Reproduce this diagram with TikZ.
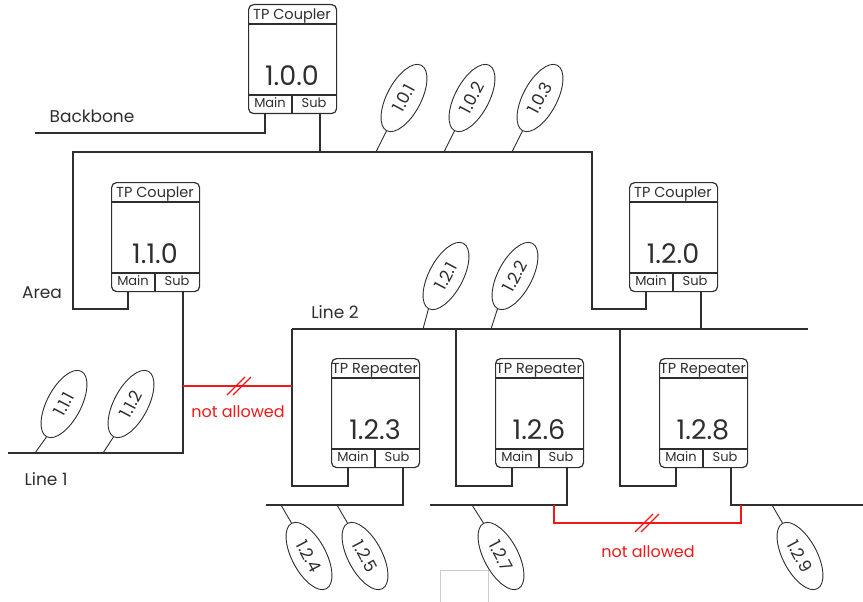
\documentclass[tikz,border=0pt]{standalone}
\usepackage{fontspec}
\setmainfont{Poppins}
\usetikzlibrary{shapes.geometric}
\definecolor{ink}{HTML}{2E2E2E}
\definecolor{nored}{HTML}{F01818}
\definecolor{faint}{HTML}{CCCCCC}
\tikzset{
  wire/.style={draw=ink, line width=2pt},
  boxline/.style={draw=ink, line width=1.2pt},
  tpbox/.style={rectangle, draw=ink, line width=1.2pt, rounded corners=5pt,
    minimum width=88pt, minimum height=109pt, inner sep=0pt},
  ttl/.style={font=\fontsize{14.5}{14.5}\selectfont, text=ink, anchor=base, inner sep=0pt},
  num/.style={font=\fontsize{27}{27}\selectfont, text=ink, anchor=base, inner sep=0pt},
  ms/.style={font=\fontsize{13}{13}\selectfont, text=ink, anchor=base, inner sep=0pt},
  dev/.style={ellipse, draw=ink, line width=0.9pt, minimum width=74pt,
    minimum height=34pt, inner sep=0pt, font=\fontsize{17}{17}\selectfont, text=ink},
  stem/.style={draw=ink, line width=0.9pt},
  redwire/.style={draw=nored, line width=2pt},
  slash/.style={draw=nored, line width=1.3pt},
  lbl/.style={font=\fontsize{17}{17}\selectfont, text=ink, anchor=base, inner sep=0pt},
  redlbl/.style={font=\fontsize{16}{16}\selectfont, text=nored, anchor=base, inner sep=0pt},
}
\newcommand\tpunit[5]{%
  \node[tpbox, anchor=north west] (#1) at (#2,#3) {};
  \draw[boxline] (#2,#3+20) -- (#2+88,#3+20);
  \draw[boxline] (#2,#3+91) -- (#2+88,#3+91);
  \draw[boxline] (#2+44,#3+91) -- (#2+44,#3+109);
  \node[ttl] (#1-t) at (#2+44,#3+15.5) {#4};
  \node[num] (#1-n) at (#2+44,#3+81) {#5};
  \node[ms] (#1-m) at (#2+22,#3+103.5) {Main};
  \node[ms] (#1-s) at (#2+66,#3+103.5) {Sub};
  \coordinate (#1-main) at (#2+17,#3+109);
  \coordinate (#1-sub) at (#2+72,#3+109);
}
\begin{document}
\begin{tikzpicture}[x=1pt,y=-1pt]
\useasboundingbox (0,0) rectangle (863,602);

% units
\tpunit{c100}{248}{4}{TP Coupler}{1.0.0}
\tpunit{c110}{111}{182}{TP Coupler}{1.1.0}
\tpunit{c120}{629}{182}{TP Coupler}{1.2.0}
\tpunit{r123}{331}{358}{TP Repeater}{1.2.3}
\tpunit{r126}{495}{358}{TP Repeater}{1.2.6}
\tpunit{r128}{659}{358}{TP Repeater}{1.2.8}

% labels
\node[lbl] (lbb) at (92,122) {Backbone};
\node[lbl] (lar) at (42,298) {Area};
\node[lbl] (ll1) at (46,485) {Line 1};
\node[lbl] (ll2) at (335,318) {Line 2};

% coordinates
\coordinate (bbend) at (35,133);
\coordinate (arL) at (73,152);
\coordinate (arR) at (592,152);
\coordinate (arLb) at (73,309);
\coordinate (arRb) at (592,309);
\coordinate (l1end) at (8,453);
\coordinate (l2L) at (292,329);
\coordinate (l2M) at (456,329);
\coordinate (l2N) at (620,329);
\coordinate (l2R) at (808,329);
\coordinate (k1) at (292,486);
\coordinate (k2) at (456,486);
\coordinate (k3) at (620,486);
\coordinate (bl1) at (266,505);
\coordinate (bl2) at (430,505);
\coordinate (bl3) at (863,505);

% wires
\draw[wire] (c100-main) |- (bbend);
\draw[wire] (c100-sub) -- (c100-sub |- arL);
\draw[wire] (c110-main) |- (arLb) -- (arL) -- (arR) -- (arRb) -| (c120-main);
\draw[wire] (c110-sub) |- (l1end);
\draw[wire] (l2L) -- (l2R);
\draw[wire] (c120-sub) -- (c120-sub |- l2L);
\draw[wire] (l2L) -- (k1) -| (r123-main);
\draw[wire] (l2M) -- (k2) -| (r126-main);
\draw[wire] (l2N) -- (k3) -| (r128-main);
\draw[wire] (r123-sub) |- (bl1);
\draw[wire] (r126-sub) |- (bl2);
\draw[wire] (r128-sub) |- (bl3);

% not allowed links
\coordinate (na1L) at (183,386);
\coordinate (na1R) at (292,386);
\coordinate (na1c) at (239,386);
\draw[redwire] (na1L) -- (na1R);
\draw[slash] ([xshift=-3pt]na1c) ++(-9,9) -- ++(18,-18);
\draw[slash] ([xshift=3pt]na1c) ++(-9,9) -- ++(18,-18);
\node[redlbl] (na1t) at (238,417) {not allowed};

\coordinate (na2a) at (554,505);
\coordinate (na2b) at (554,523);
\coordinate (na2c) at (741,523);
\coordinate (na2d) at (741,505);
\coordinate (na2m) at (647,523);
\draw[redwire] (na2a) -- (na2b) -- (na2c) -- (na2d);
\draw[slash] ([xshift=-3pt]na2m) ++(-9,9) -- ++(18,-18);
\draw[slash] ([xshift=3pt]na2m) ++(-9,9) -- ++(18,-18);
\node[redlbl] (na2t) at (648,557) {not allowed};

% devices
\node[dev, rotate=62] (d101) at (404,98) {1.0.1};
\node[dev, rotate=62] (d102) at (472,98) {1.0.2};
\node[dev, rotate=62] (d103) at (540,98) {1.0.3};
\node[dev, rotate=62] (d111) at (64,404) {1.1.1};
\node[dev, rotate=62] (d112) at (131,404) {1.1.2};
\node[dev, rotate=62] (d121) at (446,276) {1.2.1};
\node[dev, rotate=62] (d122) at (515,276) {1.2.2};
\node[dev, rotate=-62] (d124) at (309,556) {1.2.4};
\node[dev, rotate=-62] (d125) at (365,556) {1.2.5};
\node[dev, rotate=-62] (d127) at (501,556) {1.2.7};
\node[dev, rotate=-62] (d129) at (800,556) {1.2.9};

\coordinate (s101) at (376,152);
\coordinate (s102) at (444,152);
\coordinate (s103) at (512,152);
\coordinate (s111) at (35,453);
\coordinate (s112) at (103,453);
\coordinate (s121) at (423,329);
\coordinate (s122) at (491,329);
\coordinate (s124) at (281,505);
\coordinate (s125) at (337,505);
\coordinate (s127) at (472,505);
\coordinate (s129) at (772,505);
\foreach \d in {101,102,103,111,112,121,122,124,125,127,129}
  \draw[stem] (d\d.west) -- (s\d);

% faint frame
\draw[faint, line width=0.8pt] (440,602) -- (440,570) -- (488,570) -- (488,602);
\end{tikzpicture}
\end{document}
